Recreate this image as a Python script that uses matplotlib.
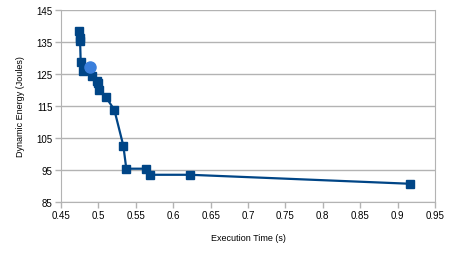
import matplotlib.pyplot as plt
import matplotlib as mpl

exec_time = [0.4745, 0.4752, 0.4755, 0.4763, 0.4798, 0.4910, 0.4985, 0.4995,
             0.5008, 0.5102, 0.5213, 0.5333, 0.5373, 0.5640, 0.5690, 0.6225,
             0.9160]
energy = [138.5, 136.2, 135.3, 128.8, 126.0, 124.3, 122.8, 122.3,
          120.1, 117.7, 113.8, 102.6, 95.4, 95.4, 93.5, 93.5,
          90.7]
chosen_time = [0.4888]
chosen_energy = [127.1]

x_ticks = [0.45, 0.5, 0.55, 0.6, 0.65, 0.7, 0.75, 0.8, 0.85, 0.9, 0.95]
y_ticks = [85, 95, 105, 115, 125, 135, 145]


def Main():
    mpl.rc('font', size=7, family=['Liberation Sans', 'DejaVu Sans'])
    fig = plt.figure(figsize=(4.54, 2.55), dpi=100)
    ax = fig.add_axes([0.1344, 0.204, 0.8236, 0.753])

    ax.plot(exec_time, energy, color='#004586', linewidth=1.6,
            marker='s', markersize=6, zorder=3)
    ax.plot(chosen_time, chosen_energy, linestyle='none', color='#3a7fdc',
            marker='o', markersize=8, zorder=4)

    ax.set_xlim(0.45, 0.95)
    ax.set_ylim(85, 145)
    ax.set_xticks(x_ticks)
    ax.set_xticklabels([f'{t:g}' for t in x_ticks])
    ax.set_yticks(y_ticks)
    ax.yaxis.grid(True, color='#b3b3b3', linewidth=1)
    ax.set_axisbelow(True)
    for s in ax.spines.values():
        s.set_color('#b3b3b3')
    ax.spines['top'].set_visible(False)
    ax.tick_params(color='#b3b3b3', length=4, width=1, labelsize=7, pad=2)

    ax.set_xlabel('Execution Time (s)', fontsize=6.5, labelpad=9)
    ax.set_ylabel('Dynamic Energy (Joules)', fontsize=6.5, labelpad=8)

    fig.savefig('out.png', dpi=100)


if __name__ == '__main__':
    Main()
